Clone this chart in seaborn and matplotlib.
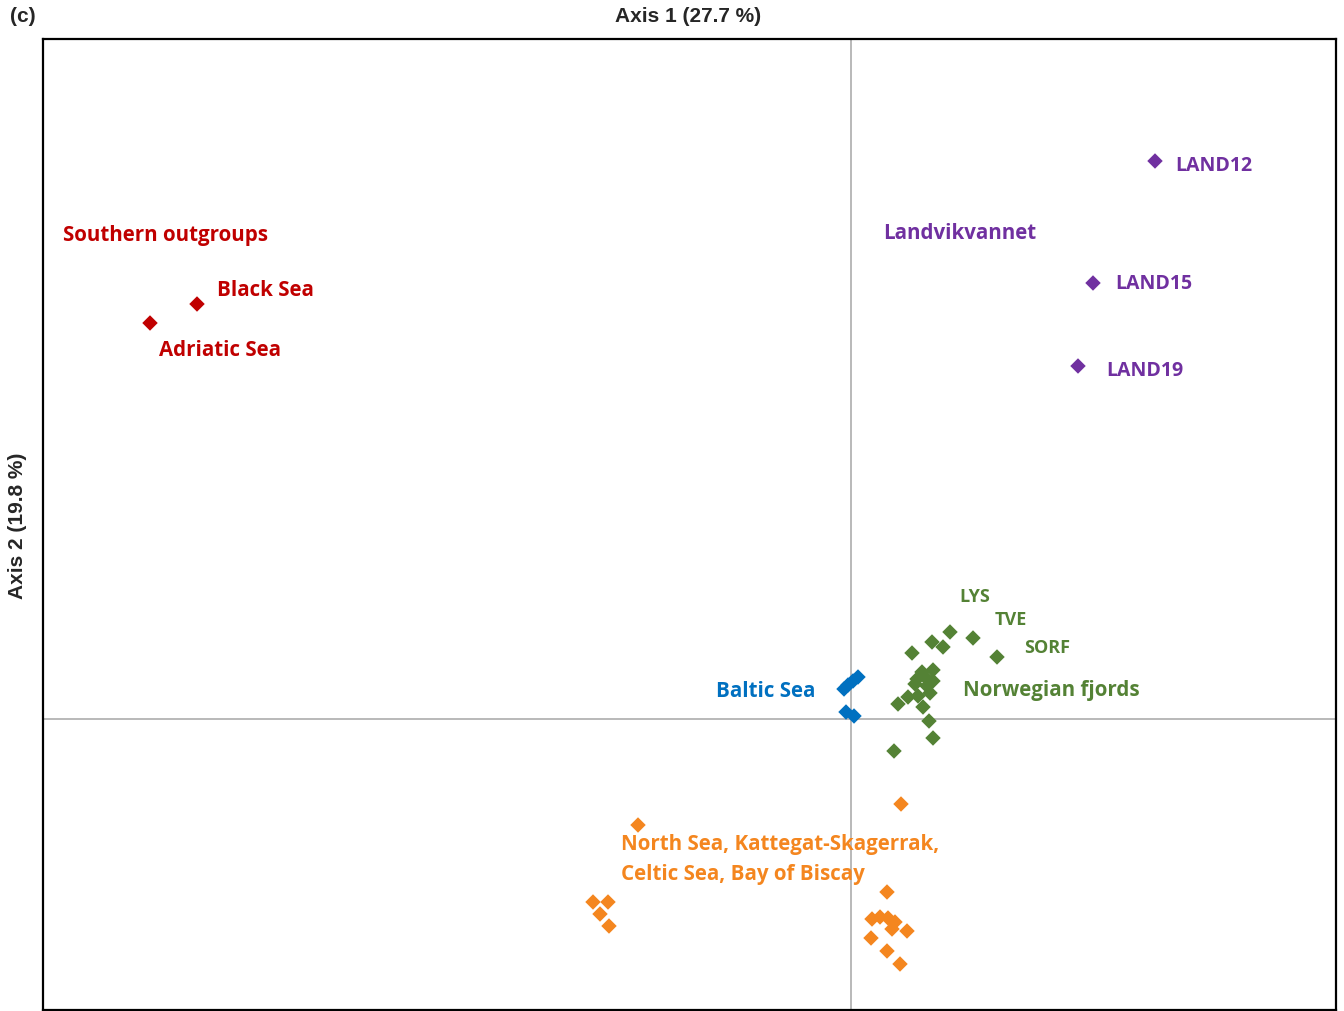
import matplotlib
matplotlib.use("Agg")
import matplotlib.pyplot as plt
import seaborn as sns
import pandas as pd

# ---- data (PCoA scores, arbitrary units) ----
red_x = [-6.54, -7.01]
red_y = [4.15, 3.96]

purple_x = [3.04, 2.42, 2.27]
purple_y = [5.58, 4.36, 3.53]

green_x = [0.99, 1.22, 1.46, 0.81, 0.92, 0.61, 0.82, 0.71, 0.66, 0.82, 0.76, 0.79,
           0.67, 0.57, 0.47, 0.72, 0.78, 0.82, 0.43, 0.64, 0.74]
green_y = [0.87, 0.81, 0.62, 0.77, 0.72, 0.66, 0.49, 0.47, 0.40, 0.38, 0.33, 0.26,
           0.23, 0.22, 0.15, 0.12, -0.02, -0.19, -0.32, 0.35, 0.42]

blue_x = [0.07, 0.02, -0.03, -0.07, -0.05, 0.03]
blue_y = [0.42, 0.38, 0.34, 0.30, 0.07, 0.03]

orange_x = [-2.13, 0.50, -2.58, -2.43, -2.51, -2.42, 0.36, 0.21, 0.29, 0.37, 0.44,
            0.41, 0.56, 0.20, 0.36, 0.49]
orange_y = [-1.06, -0.85, -1.83, -1.83, -1.95, -2.07, -1.73, -2.00, -1.98, -1.99,
            -2.03, -2.10, -2.12, -2.19, -2.32, -2.45]

groups = ["Southern", "Landvik", "Fjords", "Baltic", "Atlantic"]
colors = {"Southern": "#C00000", "Landvik": "#7030A0", "Fjords": "#548235",
          "Baltic": "#0070C0", "Atlantic": "#F4861F"}

df = pd.concat([
    pd.DataFrame({"x": red_x, "y": red_y, "g": "Southern"}),
    pd.DataFrame({"x": purple_x, "y": purple_y, "g": "Landvik"}),
    pd.DataFrame({"x": green_x, "y": green_y, "g": "Fjords"}),
    pd.DataFrame({"x": blue_x, "y": blue_y, "g": "Baltic"}),
    pd.DataFrame({"x": orange_x, "y": orange_y, "g": "Atlantic"}),
], ignore_index=True)

sns.set_style("white")
plt.rcParams["font.family"] = ["Liberation Sans", "DejaVu Sans"]

fig = plt.figure(figsize=(13.44, 10.12), dpi=100)
ax_bottom = 1.3 / 1012
ax_top = 1 - 39.5 / 1012
ax = fig.add_axes([43 / 1344, ax_bottom, (1336 - 43) / 1344, ax_top - ax_bottom])

ax.axvline(0, color="#A6A6A6", lw=1.1, zorder=0)
ax.axhline(0, color="#A6A6A6", lw=1.1, zorder=0)

sns.scatterplot(data=df, x="x", y="y", hue="g", palette=colors, marker="D",
                s=62, edgecolor="none", legend=False, ax=ax, zorder=3)

ax.set_xlim(-8.08, 4.85)
ax.set_ylim(-2.907, 6.805)
ax.set_xticks([])
ax.set_yticks([])
ax.set_xlabel("")
ax.set_ylabel("")
for sp in ax.spines.values():
    sp.set_color("black")
    sp.set_linewidth(1.6)

lab = dict(fontfamily="Open Sans", fontweight="bold", va="center", ha="left")


def px(xp, yp):
    return (xp - 851) / 100, (720 - yp) / 100


def put(text, xp, yp, c, size=14.8):
    x, y = px(xp, yp)
    ax.text(x, y, text, color=c, fontsize=size, **lab)


put("Southern outgroups", 63, 236, colors["Southern"])
put("Black Sea", 217, 291, colors["Southern"])
put("Adriatic Sea", 159, 351, colors["Southern"])
put("Landvikvannet", 883, 234, colors["Landvik"])
put("LAND12", 1175, 166, colors["Landvik"], 14)
put("LAND15", 1115, 284, colors["Landvik"], 14)
put("LAND19", 1106, 371, colors["Landvik"], 14)
put("LYS", 959, 597, colors["Fjords"], 13)
put("TVE", 995, 620, colors["Fjords"], 13)
put("SORF", 1024, 648, colors["Fjords"], 13)
put("Norwegian fjords", 963, 691, colors["Fjords"])
put("Baltic Sea", 716, 692, colors["Baltic"])
put("North Sea, Kattegat-Skagerrak,", 621, 845, colors["Atlantic"])
put("Celtic Sea, Bay of Biscay", 621, 875, colors["Atlantic"])

fig.text(10 / 1344, 1 - 16 / 1012, "(c)", fontsize=15, fontweight="bold",
         ha="left", va="center")
fig.text(688 / 1344, 1 - 16 / 1012, "Axis 1 (27.7 %)", fontsize=15,
         fontweight="bold", ha="center", va="center")
fig.text(18 / 1344, 1 - 526 / 1012, "Axis 2 (19.8 %)", fontsize=15,
         fontweight="bold", ha="center", va="center", rotation=90)

fig.savefig("out.png", dpi=100)
